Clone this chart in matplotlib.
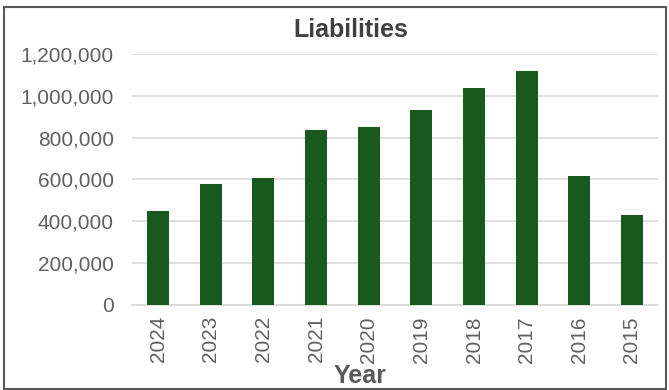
import matplotlib.pyplot as plt
from matplotlib.patches import Rectangle
from matplotlib.ticker import FuncFormatter

plt.rcParams['font.family'] = ['Liberation Sans', 'DejaVu Sans']

years = ['2024', '2023', '2022', '2021', '2020', '2019', '2018', '2017', '2016', '2015']
liabilities = [447000, 580000, 606000, 835000, 848000, 930000, 1035000, 1120000, 614000, 428000]

fig = plt.figure(figsize=(6.69, 3.90), dpi=100)
ax = fig.add_axes([0.197, 0.218, 0.787, 0.644])

x = range(len(years))
ax.bar(x, liabilities, width=0.42, color='#185a1e', zorder=3)

ax.set_xlim(-0.5, len(years) - 0.5)
ax.set_ylim(0, 1200000)
ax.set_yticks(range(0, 1200001, 200000))
ax.yaxis.set_major_formatter(FuncFormatter(lambda v, p: f'{int(v):,}'))
ax.set_xticks(list(x))
ax.set_xticklabels(years, rotation=90)

ax.grid(axis='y', color='#d9d9d9', linewidth=1.2, zorder=0)
for side in ['top', 'right', 'left']:
    ax.spines[side].set_visible(False)
ax.spines['bottom'].set_color('#d9d9d9')
ax.spines['bottom'].set_linewidth(1.2)
ax.tick_params(length=0, labelsize=15, colors='#606060')
ax.tick_params(axis='y', pad=13)
ax.tick_params(axis='x', pad=8)

fig.text(351 / 669, 1 - 30 / 390, 'Liabilities', ha='center', va='center',
         fontsize=18, fontweight='bold', color='#404040')
fig.text(360 / 669, 1 - 376 / 390, 'Year', ha='center', va='center',
         fontsize=18, fontweight='bold', color='#595959')

fig.patches.append(Rectangle((0.006, 0.003), 0.989, 0.978, transform=fig.transFigure,
                             fill=False, edgecolor='#595959', linewidth=1.5))

fig.savefig('out.png', dpi=100)
